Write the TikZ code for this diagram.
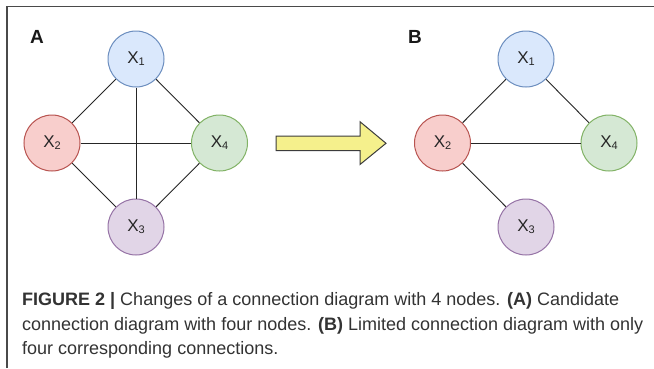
\documentclass[tikz,border=0pt]{standalone}
\usepackage{fontspec}
\setmainfont{Liberation Sans}
\definecolor{frame}{HTML}{4A4A4A}
\definecolor{txt}{HTML}{333333}
\definecolor{bluefill}{HTML}{DAE8FC}\definecolor{bluedraw}{HTML}{6C8EBF}
\definecolor{redfill}{HTML}{F8CECC}\definecolor{reddraw}{HTML}{B85450}
\definecolor{greenfill}{HTML}{D5E8D4}\definecolor{greendraw}{HTML}{82B366}
\definecolor{purplefill}{HTML}{E1D5E7}\definecolor{purpledraw}{HTML}{9673A6}
\definecolor{arrowfill}{HTML}{F5F08C}\definecolor{arrowdraw}{HTML}{3C3C3C}
\newcommand{\vlabel}[1]{X{\fontsize{11}{11}\selectfont\raisebox{-0.35ex}{#1}}}
\begin{document}
\begin{tikzpicture}[x=1pt,y=-1pt,
  vnode/.style={circle,minimum size=56pt,inner sep=0pt,line width=1pt,
    font=\fontsize{17}{17}\selectfont,text=black!85},
  xone/.style={vnode,fill=bluefill,draw=bluedraw},
  xtwo/.style={vnode,fill=redfill,draw=reddraw},
  xthree/.style={vnode,fill=purplefill,draw=purpledraw},
  xfour/.style={vnode,fill=greenfill,draw=greendraw},
  edge/.style={line width=0.9pt,black!85},
  panel/.style={font=\fontsize{19}{19}\selectfont\bfseries,text=black!90},
  capline/.style={anchor=base west,inner sep=0pt,text=txt,font=\fontsize{18}{20}\selectfont}
]
\useasboundingbox (0,0) rectangle (654,368);
\fill[white] (0,0) rectangle (654,368);
% frame: top and left rules
\draw[frame,line width=1.6pt] (7,368) -- (7,6.5) -- (654,6.5);

% panel A: all six connections
\node[panel] (la) at (37,37) {A};
\node[xone]   (a1) at (136,59)  {\vlabel{1}};
\node[xtwo]   (a2) at (52,143)  {\vlabel{2}};
\node[xfour]  (a4) at (219.5,143) {\vlabel{4}};
\node[xthree] (a3) at (136,227) {\vlabel{3}};
\draw[edge] (a1) -- (a2);
\draw[edge] (a1) -- (a4);
\draw[edge] (a1) -- (a3);
\draw[edge] (a2) -- (a4);
\draw[edge] (a2) -- (a3);
\draw[edge] (a4) -- (a3);

% transition arrow (block arrow outline)
\draw[fill=arrowfill,draw=arrowdraw,line width=1pt,line join=miter]
  (276,136) -- (360,136) -- (360,121.7) -- (386,143.3) -- (360,164.5)
  -- (360,150.7) -- (276,150.7) -- cycle;

% panel B: limited connections
\node[panel] (lb) at (415,37) {B};
\node[xone]   (b1) at (526,59)  {\vlabel{1}};
\node[xtwo]   (b2) at (442.5,143) {\vlabel{2}};
\node[xfour]  (b4) at (609,143) {\vlabel{4}};
\node[xthree] (b3) at (526,227) {\vlabel{3}};
\draw[edge] (b1) -- (b2);
\draw[edge] (b1) -- (b4);
\draw[edge] (b2) -- (b4);
\draw[edge] (b2) -- (b3);

% caption
\node[capline] (c1) at (22,305) {\textbf{FIGURE 2 |} Changes of a connection diagram with 4 nodes. \textbf{(A)} Candidate};
\node[capline] (c2) at (22,330) {connection diagram with four nodes. \textbf{(B)} Limited connection diagram with only};
\node[capline] (c3) at (22,354.5) {four corresponding connections.};
\end{tikzpicture}
\end{document}
